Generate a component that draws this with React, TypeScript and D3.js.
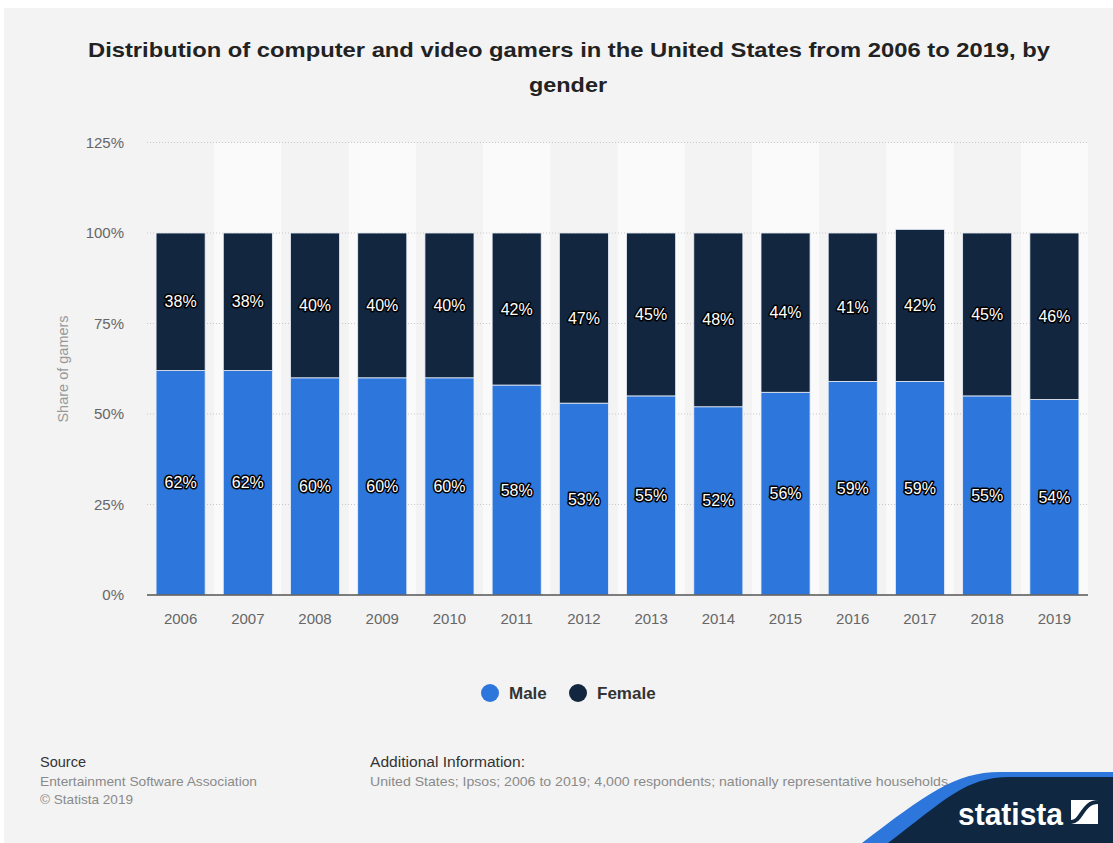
import React from "react";
import * as d3 from "d3";

const years = ["2006","2007","2008","2009","2010","2011","2012","2013","2014","2015","2016","2017","2018","2019"];
const male = [62,62,60,60,60,58,53,55,52,56,59,59,55,54];
const female = [38,38,40,40,40,42,47,45,48,44,41,42,45,46];
const yTicks = [0,25,50,75,100,125];
const seriesNames = ["Male","Female"];
const seriesColors = ["#2d76dc","#12263f"];

const W = 1113, H = 843;
const FONT = "'Liberation Sans', Arial, Helvetica, sans-serif";

export default function App() {
  const x = d3.scaleBand<string>().domain(years).range([147, 1088]).paddingInner(0.27).paddingOuter(0.135);
  const y = d3.scaleLinear().domain([0,125]).range([595, 142.5]);
  const step = x.step();
  const bandStart = (i: number) => 147 + i * step;

  const rows = years.map((yr, i) => ({ year: yr, Male: male[i], Female: female[i] }));
  const stack = d3.stack<any>().keys(seriesNames)(rows);

  return (
    <svg width={W} height={H} style={{ position: "absolute", left: 0, top: 0, display: "block" }} fontFamily={FONT}>
      <rect x={0} y={0} width={W} height={H} fill="#ffffff" />
      <rect x={4} y={8} width={W - 4} height={H - 8} fill="#f3f3f3" />

      {/* Title */}
      <text x={569} y={57} textAnchor="middle" fontSize={21} fontWeight="bold" fill="#222" textLength={962} lengthAdjust="spacingAndGlyphs">
        Distribution of computer and video gamers in the United States from 2006 to 2019, by
      </text>
      <text x={568} y={92} textAnchor="middle" fontSize={21} fontWeight="bold" fill="#222" textLength={78} lengthAdjust="spacingAndGlyphs">gender</text>

      {/* alternating bands */}
      {years.map((yr, i) => i % 2 === 1 ? (
        <rect key={"band" + yr} x={bandStart(i)} y={y(125)} width={step} height={y(0) - y(125)} fill="#fafafa" />
      ) : null)}

      {/* grid lines */}
      {yTicks.filter(t => t > 0).map(t => (
        <line key={"g" + t} x1={147} x2={1088} y1={y(t)} y2={y(t)} stroke="#c8c8c8" strokeWidth={1} strokeDasharray="1 2" />
      ))}

      {/* y tick labels */}
      {yTicks.map(t => (
        <text key={"yt" + t} x={124} y={y(t)} dy="0.35em" textAnchor="end" fontSize={15} fill="#666">{t}%</text>
      ))}
      <text transform={`translate(68,${369}) rotate(-90)`} textAnchor="middle" fontSize={14.5} fill="#999">Share of gamers</text>

      {/* bars */}
      {stack.map((s, si) => (
        <g key={s.key}>
          {s.map((d, i) => (
            <rect key={i} x={x(years[i])!} y={y(d[1])} width={x.bandwidth()} height={y(d[0]) - y(d[1])}
              fill={seriesColors[si]} stroke="#e8eef8" strokeWidth={0.8} />
          ))}
        </g>
      ))}

      {/* axis line */}
      <line x1={147} x2={1088} y1={y(0)} y2={y(0)} stroke="#555" strokeWidth={1.5} />

      {/* x tick labels */}
      {years.map(yr => (
        <text key={"xt" + yr} x={x(yr)! + x.bandwidth() / 2} y={624} textAnchor="middle" fontSize={15} fill="#666">{yr}</text>
      ))}

      {/* data labels */}
      {stack.map((s, si) => (
        <g key={"lab" + s.key}>
          {s.map((d, i) => (
            <text key={i} x={x(years[i])! + x.bandwidth() / 2} y={(y(d[0]) + y(d[1])) / 2} dy="0.35em"
              textAnchor="middle" fontSize={16} fill="#ffffff" stroke="#000" strokeWidth={3}
              strokeLinejoin="round" style={{ paintOrder: "stroke" }}>
              {(si === 0 ? male[i] : female[i]) + "%"}
            </text>
          ))}
        </g>
      ))}

      {/* legend */}
      <circle cx={490} cy={693} r={9} fill={seriesColors[0]} />
      <text x={509} y={693} dy="0.35em" fontSize={17} fontWeight="bold" fill="#333">{seriesNames[0]}</text>
      <circle cx={578} cy={693} r={9} fill={seriesColors[1]} />
      <text x={597} y={693} dy="0.35em" fontSize={17} fontWeight="bold" fill="#333">{seriesNames[1]}</text>

      {/* footer */}
      <text x={40} y={767} fontSize={14} fill="#333" textLength={46} lengthAdjust="spacingAndGlyphs">Source</text>
      <text x={40} y={786} fontSize={13.5} fill="#8a8a8a" textLength={217} lengthAdjust="spacingAndGlyphs">Entertainment Software Association</text>
      <text x={40} y={804} fontSize={13.5} fill="#8a8a8a" textLength={93} lengthAdjust="spacingAndGlyphs">© Statista 2019</text>
      <text x={370} y={767} fontSize={14} fill="#333" textLength={155} lengthAdjust="spacingAndGlyphs">Additional Information:</text>
      <text x={370} y={786} fontSize={13.5} fill="#8a8a8a" textLength={578} lengthAdjust="spacingAndGlyphs">United States; Ipsos; 2006 to 2019; 4,000 respondents; nationally representative households</text>

      {/* statista logo */}
      <path d="M 1113 772 L 1000 772 C 955 772 925 795 862 843 L 1113 843 Z" fill="#2d76dc" />
      <path d="M 1113 777 L 1010 777 C 965 777 945 800 888 843 L 1113 843 Z" fill="#0f2740" />
      <text x={958} y={825} fontSize={31} fontWeight="bold" fill="#ffffff" textLength={105} lengthAdjust="spacingAndGlyphs"
        fontFamily="'Liberation Sans Narrow', 'Liberation Sans', Arial, sans-serif">statista</text>
      <rect x={1071} y={800} width={27} height={24} fill="#ffffff" />
      <path d="M 1071 822 C 1082 822 1082 802 1098 802" fill="none" stroke="#0f2740" strokeWidth={4} />
    </svg>
  );
}
